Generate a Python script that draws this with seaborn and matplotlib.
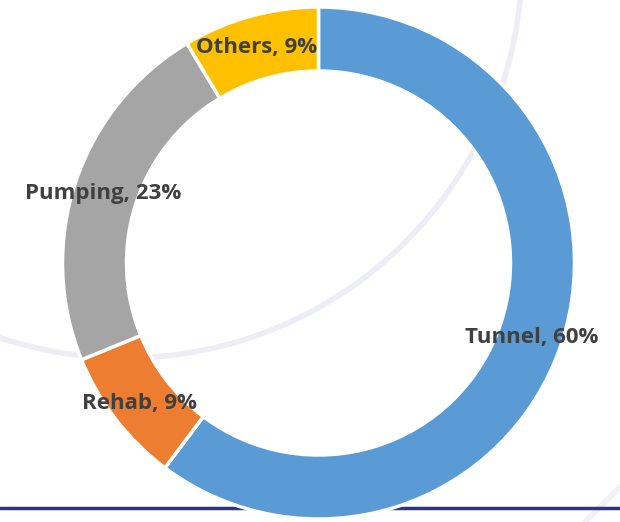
import matplotlib.pyplot as plt
import matplotlib.patches as mpatches
import seaborn as sns

# data (shares; labels show rounded percent)
categories = ['Tunnel', 'Rehab', 'Pumping', 'Others']
shares = [60.3, 8.6, 22.6, 8.6]
colors = ['#5B9BD5', '#ED7D31', '#A5A5A5', '#FFC000']

sns.set_theme(style='white')
plt.rcParams['font.family'] = ['Open Sans', 'DejaVu Sans']

H = 522
fig = plt.figure(figsize=(6.2, 5.22), dpi=100)
ax = fig.add_axes([0, 0, 1, 1])

# faint background decoration (slide template)
ax.add_patch(mpatches.Circle((125, H + 39), 397, fill=False, lw=4, ec='#EDEDF5', zorder=0))
ax.plot([585, 625], [0, 40], color='#F0F0F6', lw=4, zorder=0)
ax.plot([0, 620], [H - 507.5, H - 507.5], color='#2B3486', lw=2.5, zorder=0.5)

cx, cy, r = 318.5, H - 263, 256
ax.pie(shares, colors=colors, startangle=90, counterclock=False,
       radius=r, center=(cx, cy), frame=True,
       wedgeprops=dict(width=r * 0.25, edgecolor='white', linewidth=2.5))
ax.set_xlim(0, 620)
ax.set_ylim(0, H)
ax.set_aspect('equal')
ax.axis('off')

label_pos = {'Tunnel': (532, 337), 'Rehab': (139, 404), 'Pumping': (103, 193), 'Others': (257, 48)}
for cat, val in zip(categories, shares):
    x, y = label_pos[cat]
    ax.text(x, H - y, f'{cat}, {round(val)}%', ha='center', va='center',
            fontsize=16, fontweight='bold', color='#404040', zorder=5)

fig.savefig('out.png', dpi=100)
